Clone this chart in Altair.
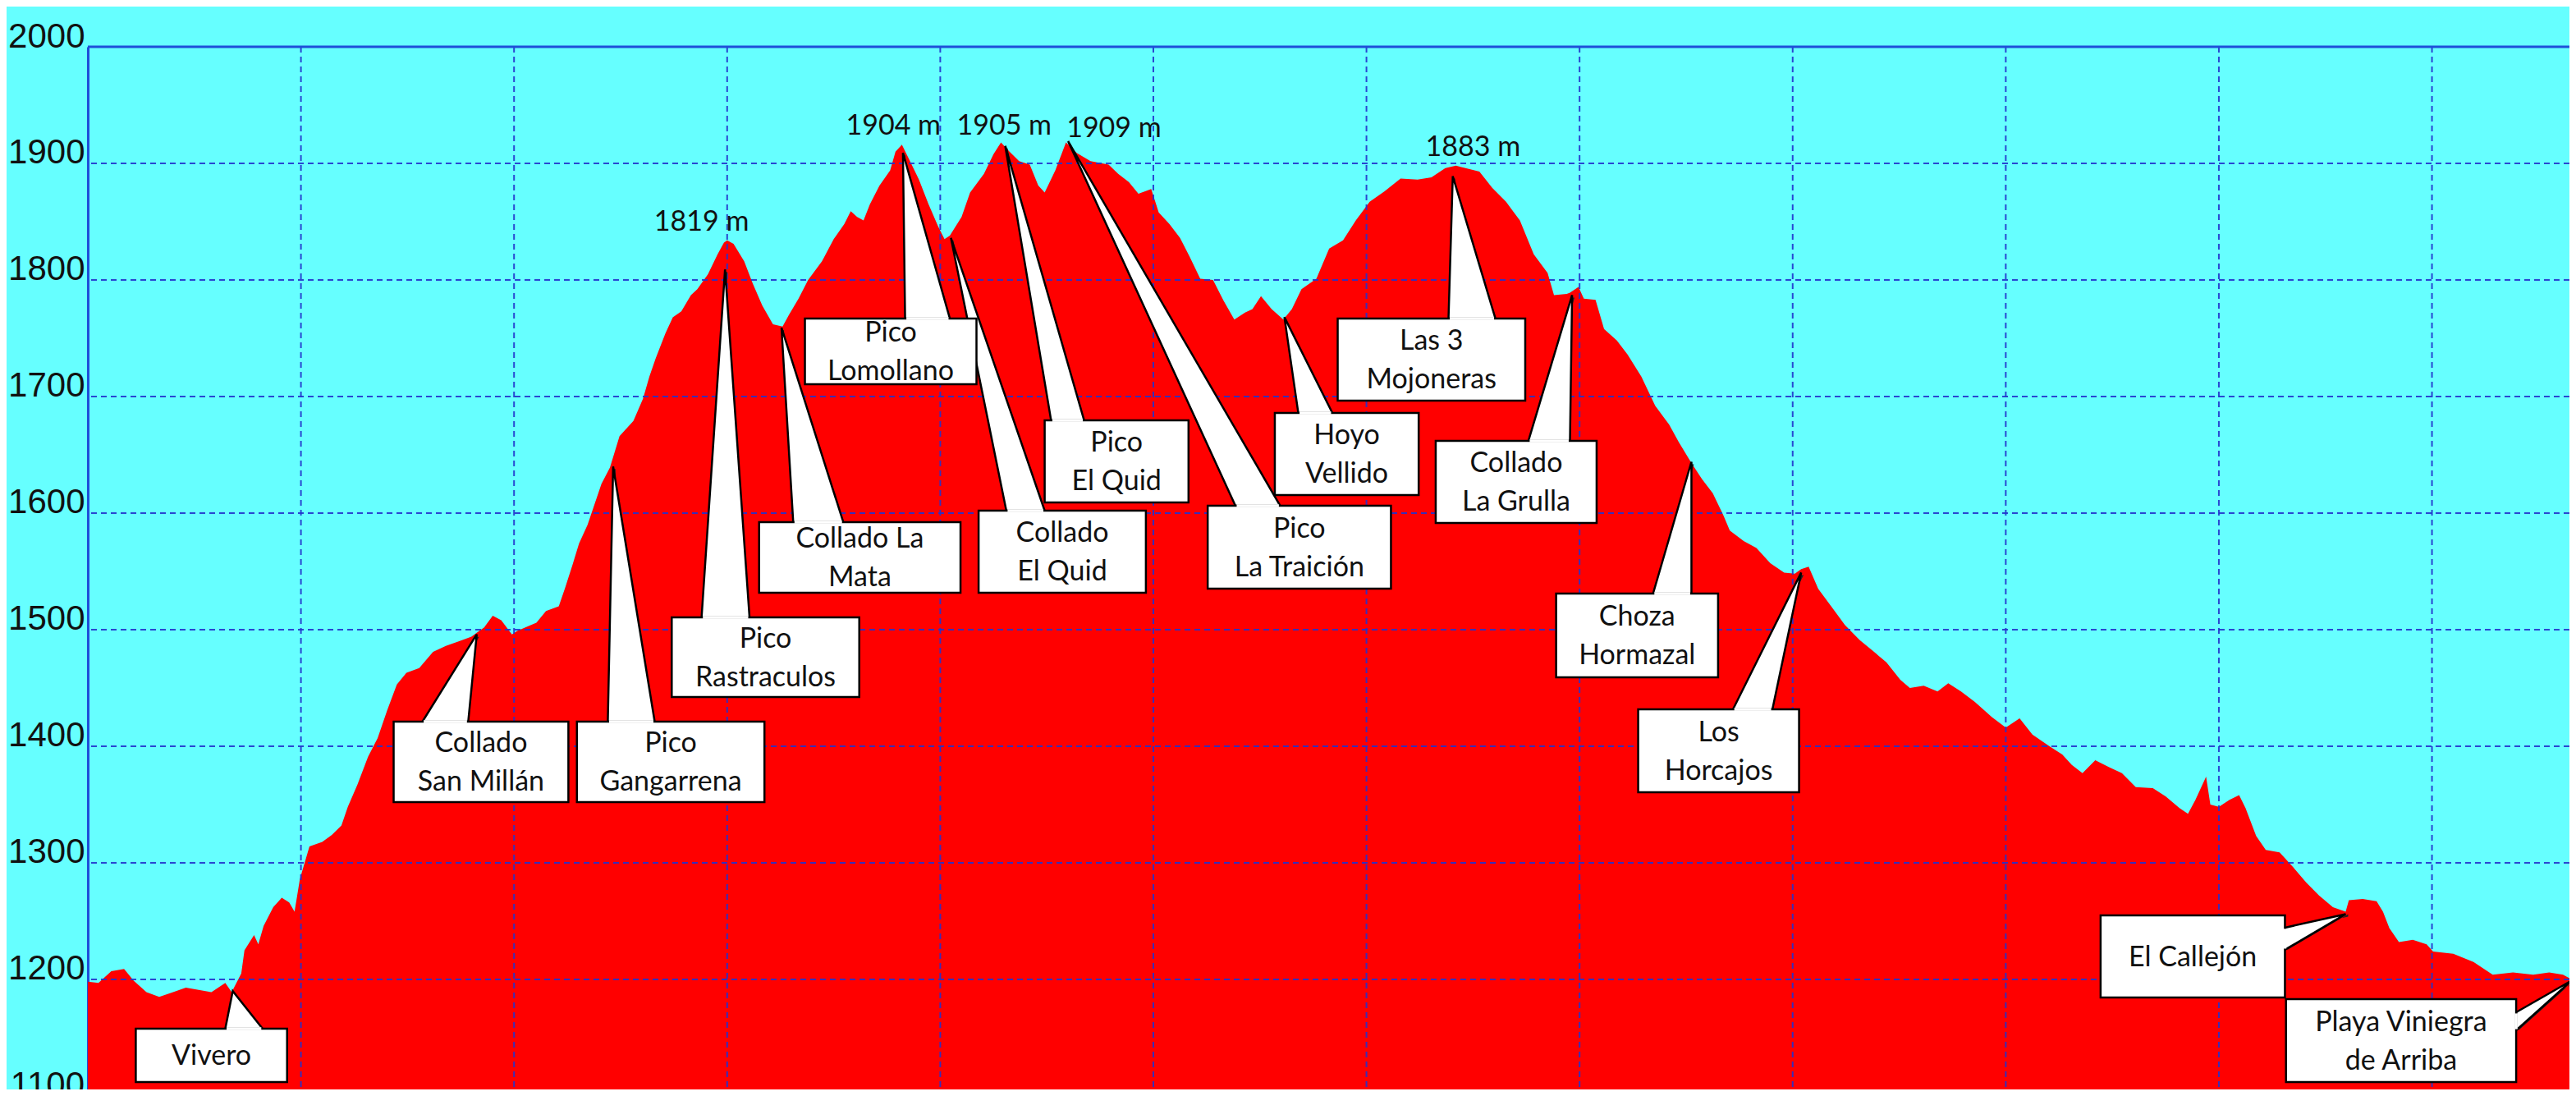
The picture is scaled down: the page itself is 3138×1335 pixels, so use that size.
import altair as alt
import pandas as pd

# ---------------- data ----------------
# distance along the route (km) and elevation (m)
dist = [0.00, 0.10, 0.22, 0.34, 0.43, 0.55, 0.67, 0.80, 0.92, 1.04, 1.16, 1.29, 1.35, 1.44, 1.47, 1.56, 1.60,
        1.65, 1.74, 1.82, 1.89, 1.94, 1.99, 2.08, 2.20, 2.29, 2.38, 2.44, 2.53, 2.63, 2.72, 2.81, 2.90, 2.99,
        3.11, 3.24, 3.36, 3.48, 3.60, 3.66, 3.72, 3.80, 3.88, 3.98, 4.03, 4.21, 4.30, 4.42, 4.48, 4.55, 4.61,
        4.69, 4.82, 4.90, 4.99, 5.12, 5.21, 5.27, 5.33, 5.42, 5.49, 5.57, 5.66, 5.72, 5.82, 5.91, 5.97, 6.00,
        6.06, 6.16, 6.24, 6.33, 6.43, 6.52, 6.58, 6.67, 6.76, 6.89, 7.00, 7.10, 7.16, 7.22, 7.28, 7.34, 7.43,
        7.53, 7.58, 7.64, 7.70, 7.80, 7.89, 7.98, 8.04, 8.09, 8.20, 8.28, 8.41, 8.50, 8.57, 8.65, 8.74, 8.84,
        8.92, 8.98, 9.08, 9.18,
        9.28, 9.41, 9.58, 9.67, 9.77, 9.86, 9.98, 10.05, 10.15, 10.25, 10.34, 10.44, 10.56, 10.66, 10.76,
        10.86, 10.93, 11.01, 11.11, 11.22, 11.30, 11.39, 11.53, 11.65, 11.78, 11.90, 12.03, 12.17, 12.32,
        12.48, 12.61, 12.74, 12.84, 12.93, 13.06, 13.18, 13.31, 13.44, 13.57, 13.70, 13.76, 13.88,
        13.91, 13.99, 14.04, 14.15, 14.23, 14.35, 14.45, 14.58, 14.71, 14.84, 14.93, 15.05, 15.15, 15.25,
        15.35, 15.41, 15.54, 15.66, 15.79, 15.92, 16.02, 16.08, 16.15, 16.24, 16.37, 16.49, 16.63, 16.75,
        16.88, 17.01, 17.10, 17.23, 17.36, 17.46, 17.58, 17.71, 17.87, 18.00, 18.13, 18.25, 18.41,
        18.53, 18.62, 18.72, 18.84, 18.97, 19.09, 19.22, 19.38, 19.50, 19.63, 19.71, 19.78, 19.88, 19.92,
        20.00, 20.10, 20.19, 20.25, 20.35, 20.44, 20.57, 20.69, 20.82, 20.94, 21.07, 21.19, 21.22, 21.35,
        21.48, 21.54, 21.60, 21.69, 21.82, 21.95, 22.01, 22.20, 22.39, 22.57, 22.76, 22.95, 23.10, 23.23,
        23.31, 23.35]
elev = [1198, 1197, 1207, 1209, 1199, 1189, 1185, 1189, 1193, 1191, 1189, 1197, 1189, 1205, 1225, 1238, 1230,
        1246, 1262, 1270, 1266, 1258, 1286, 1314, 1318, 1324, 1332, 1348, 1367, 1391, 1407, 1431, 1453, 1463,
        1467, 1481, 1486, 1490, 1494, 1498, 1502, 1512, 1508, 1496, 1499, 1506, 1516, 1520, 1536, 1556, 1574,
        1590, 1625, 1639, 1666, 1679, 1698, 1717, 1733, 1754, 1768, 1773, 1787, 1792, 1805, 1822, 1832, 1834,
        1831, 1816, 1797, 1778, 1762, 1760, 1770, 1784, 1800, 1816, 1835, 1848, 1859, 1854, 1851, 1865, 1881,
        1894, 1910, 1916, 1905, 1886, 1865, 1846, 1835, 1838, 1854, 1875, 1891, 1908, 1918, 1910, 1902, 1899,
        1881, 1875, 1894, 1918,
        1909, 1902, 1899, 1891, 1884, 1874, 1878, 1858, 1848, 1836, 1820, 1801, 1800, 1782, 1766,
        1772, 1775, 1786, 1775, 1766, 1775, 1792, 1801, 1827, 1834, 1851, 1867, 1876, 1887,
        1886, 1888, 1896, 1898, 1896, 1893, 1879, 1867, 1851, 1822, 1806, 1787, 1788,
        1789, 1794, 1784, 1783, 1758, 1748, 1736, 1717, 1692, 1676, 1661, 1643, 1629, 1617,
        1598, 1585, 1576, 1570, 1557, 1549, 1548, 1552, 1554, 1535, 1519, 1504, 1491, 1482,
        1472, 1457, 1450, 1452, 1447, 1454, 1447, 1438, 1425, 1416, 1424, 1410, 1400,
        1393, 1384, 1377, 1388, 1382, 1377, 1365, 1364, 1357, 1347, 1342, 1354, 1374, 1350,
        1348, 1354, 1358, 1347, 1323, 1311, 1309, 1297, 1283, 1272, 1262, 1258, 1268, 1269,
        1267, 1258, 1244, 1232, 1234, 1230, 1224, 1222, 1215, 1204, 1206, 1204, 1206, 1204,
        1200, 1199]

# waypoints (callout texts) and the point of the profile they mark
wp_names = ["Vivero", "Collado\nSan Millán", "Pico\nGangarrena", "Pico\nRastraculos", "Collado La\nMata",
            "Pico\nLomollano", "Collado\nEl Quid", "Pico\nEl Quid", "Pico\nLa Traición", "Hoyo\nVellido",
            "Las 3\nMojoneras", "Collado\nLa Grulla", "Choza\nHormazal", "Los\nHorcajos", "El Callejón",
            "Playa Viniegra\nde Arriba"]
wp_dist = [1.36, 3.65, 4.93, 5.98, 6.51, 7.65, 8.10, 8.61, 9.20, 11.23, 12.81, 13.93, 15.05, 16.08, 21.19, 23.31]
wp_elev = [1190, 1496, 1640, 1809, 1759, 1909, 1836, 1915, 1919, 1768, 1889, 1787, 1644, 1549, 1256, 1199]

# summit labels
peak_vals = [1819, 1904, 1905, 1909, 1883]

# axis ticks
x_grid = [2, 4, 6, 8, 10, 12, 14, 16, 18, 20, 22]
y_grid = [1200, 1300, 1400, 1500, 1600, 1700, 1800, 1900]
y_labels = [1100, 1200, 1300, 1400, 1500, 1600, 1700, 1800, 1900, 2000]

# ---------------- layout (annotation placement, in axis units) ----------------
# box: left, right, top, bottom, side the pointer leaves from, pointer base (start, end)
box_layout = [
    (0.45, 1.87, 1157.7, 1112.0, "top", 1.29, 1.64),
    (2.87, 4.51, 1421.1, 1352.1, "top", 3.14, 3.57),
    (4.59, 6.35, 1421.1, 1352.1, "top", 4.88, 5.32),
    (5.48, 7.24, 1510.6, 1442.3, "top", 5.76, 6.21),
    (6.30, 8.19, 1592.3, 1531.7, "top", 6.62, 7.09),
    (6.73, 8.34, 1766.9, 1710.6, "top", 7.67, 8.09),
    (8.36, 9.93, 1602.1, 1531.7, "top", 8.62, 8.98),
    (8.98, 10.33, 1679.6, 1609.2, "top", 9.04, 9.35),
    (10.51, 12.23, 1606.3, 1535.2, "top", 10.77, 11.19),
    (11.14, 12.49, 1685.9, 1615.5, "top", 11.36, 11.68),
    (11.73, 13.49, 1766.9, 1696.5, "top", 12.77, 13.21),
    (12.65, 14.16, 1662.0, 1591.5, "top", 13.52, 13.91),
    (13.78, 15.30, 1531.0, 1459.2, "top", 14.69, 15.05),
    (14.55, 16.06, 1431.7, 1360.6, "top", 15.44, 15.81),
    (18.89, 20.62, 1254.9, 1184.5, "right", 1244.4, 1225.4),
    (20.63, 22.79, 1183.1, 1112.0, "right", 1171.8, 1156.3),
]
peak_pos = [(5.76, 1842.3), (7.56, 1924.6), (8.60, 1924.6), (9.63, 1922.5), (13.00, 1906.3)]

XMAX, YMIN, YMAX = 23.29, 1105.6, 2000
W, H = 3023, 1270
PX_PER_M = H / (YMAX - YMIN)
LINE_H = 47
BG, RED, GRID, FRAME = "#66FFFF", "#FF0000", "#2233CC", "#1F4FD8"
LABEL_STYLE = dict(font="Liberation Sans", fontSize=42, color="#111111")

xs = alt.Scale(domain=[0, XMAX], nice=False, zero=False)
ys = alt.Scale(domain=[YMIN, YMAX], nice=False, zero=False)
yax = alt.Axis(
    values=y_labels, format="d", title=None, grid=False, ticks=False, labelFont=LABEL_STYLE["font"],
    labelFontSize=LABEL_STYLE["fontSize"], labelColor=LABEL_STYLE["color"], labelBaseline="alphabetic",
    labelAlign="right", labelPadding=4, labelFlush=False, labelOverlap=False,
    domainColor=FRAME, domainWidth=3)


def X(f, **kw):
    return alt.X(f, scale=xs, axis=None, **kw)


def Y(f, **kw):
    return alt.Y(f, scale=ys, axis=yax, **kw)


# ---------------- build tables ----------------
profile = pd.DataFrame({"d": dist, "e": elev})

boxes, wt, wr, jt, jr = [], [], [], [], []
for name, td, te, (x1, x2, yt, yb, side, b1, b2) in zip(wp_names, wp_dist, wp_elev, box_layout):
    n_lines = name.count("\n") + 1
    cy = (yt + yb) / 2 + (n_lines - 1) * LINE_H / 2 / PX_PER_M
    boxes.append({"name": name, "x1": x1, "x2": x2, "yt": yt, "yb": yb, "cx": (x1 + x2) / 2, "cy": cy})
    if side == "top":
        wt.append({"name": name, "y": te, "xa": td, "xb": td})
        wt.append({"name": name, "y": yt, "xa": b1, "xb": b2})
        jt.append({"name": name, "y": yt, "xa": b1 + 0.012, "xb": b2 - 0.012})
    else:
        wr.append({"name": name, "x": x2, "ya": b1, "yb": b2})
        wr.append({"name": name, "x": td, "ya": te, "yb": te})
        jr.append({"name": name, "x": x2, "ya": b1 - 1.0, "yb": b2 + 1.0})
boxes = pd.DataFrame(boxes)
wt, wr, jt, jr = pd.DataFrame(wt), pd.DataFrame(wr), pd.DataFrame(jt), pd.DataFrame(jr)
peaks = pd.DataFrame({"label": [f"{v} m" for v in peak_vals],
                      "x": [p[0] for p in peak_pos], "y": [p[1] for p in peak_pos]})
# the lowest tick label lies just below the visible domain (cut by the picture's edge in the reference)
low_label = pd.DataFrame({"v": [y_labels[0]], "t": [str(y_labels[0])]})

# ---------------- layers ----------------
area = alt.Chart(profile).mark_area(color=RED, clip=True, interpolate="linear").encode(
    x=X("d:Q"), y=Y("e:Q"))

hgrid = alt.Chart(pd.DataFrame({"v": y_grid})).mark_rule(
    color=GRID, strokeWidth=2, strokeDash=[7, 5], opacity=0.9).encode(y=Y("v:Q"))
vgrid = alt.Chart(pd.DataFrame({"v": x_grid})).mark_rule(
    color=GRID, strokeWidth=2, strokeDash=[7, 5], opacity=0.9).encode(x=X("v:Q"))
top = alt.Chart(pd.DataFrame({"v": [YMAX]})).mark_rule(color=FRAME, strokeWidth=3).encode(y=Y("v:Q"))

shadow_t = alt.Chart(wt).mark_area(orient="horizontal", color="#222222", xOffset=3, yOffset=3).encode(
    y=Y("y:Q"), x=X("xa:Q", stack=None), x2="xb:Q", detail="name:N")
shadow_r = alt.Chart(wr).mark_area(orient="vertical", color="#222222", xOffset=3, yOffset=3).encode(
    x=X("x:Q"), y=Y("ya:Q", stack=None), y2="yb:Q", detail="name:N")
shadow_b = alt.Chart(boxes).mark_rect(color="#222222", xOffset=3, yOffset=3).encode(
    x=X("x1:Q"), x2="x2:Q", y=Y("yt:Q"), y2="yb:Q")

wedge_t = alt.Chart(wt).mark_area(orient="horizontal", fill="white", stroke="black", strokeWidth=2.5).encode(
    y=Y("y:Q"), x=X("xa:Q", stack=None), x2="xb:Q", detail="name:N")
wedge_r = alt.Chart(wr).mark_area(orient="vertical", fill="white", stroke="black", strokeWidth=2.5).encode(
    x=X("x:Q"), y=Y("ya:Q", stack=None), y2="yb:Q", detail="name:N")
box = alt.Chart(boxes).mark_rect(fill="white", stroke="black", strokeWidth=2.5).encode(
    x=X("x1:Q"), x2="x2:Q", y=Y("yt:Q"), y2="yb:Q")
join_t = alt.Chart(jt).mark_rule(color="white", strokeWidth=3.5).encode(
    x=X("xa:Q"), x2="xb:Q", y=Y("y:Q"))
join_r = alt.Chart(jr).mark_rule(color="white", strokeWidth=3.5).encode(
    x=X("x:Q"), y=Y("ya:Q"), y2="yb:Q")

box_text = alt.Chart(boxes).mark_text(
    font="Lato", fontSize=34, lineHeight=LINE_H, lineBreak="\n", color="#111111",
    align="center", baseline="middle", dy=2).encode(
    x=X("cx:Q"), y=Y("cy:Q"), text="name:N")

peak_text = alt.Chart(peaks).mark_text(
    font="Lato", fontSize=34, color="#111111", align="center", baseline="alphabetic").encode(
    x=X("x:Q"), y=Y("y:Q"), text="label:N")

low_text = alt.Chart(low_label).mark_text(
    align="right", baseline="alphabetic", **LABEL_STYLE).encode(
    x=alt.value(-4), y=Y("v:Q"), text="t:N")

chart = alt.layer(
    area, hgrid, vgrid, top,
    shadow_t, shadow_r, shadow_b,
    wedge_t, wedge_r, box, join_t, join_r,
    box_text, peak_text, low_text,
).properties(
    width=W, height=H,
    padding={"left": 99, "top": 49, "right": 0, "bottom": 0},
    autosize=alt.AutoSizeParams(type="none"),
    background=BG,
).configure_view(strokeWidth=0)

chart.save("out.html", embed_options={"renderer": "svg", "actions": False})
